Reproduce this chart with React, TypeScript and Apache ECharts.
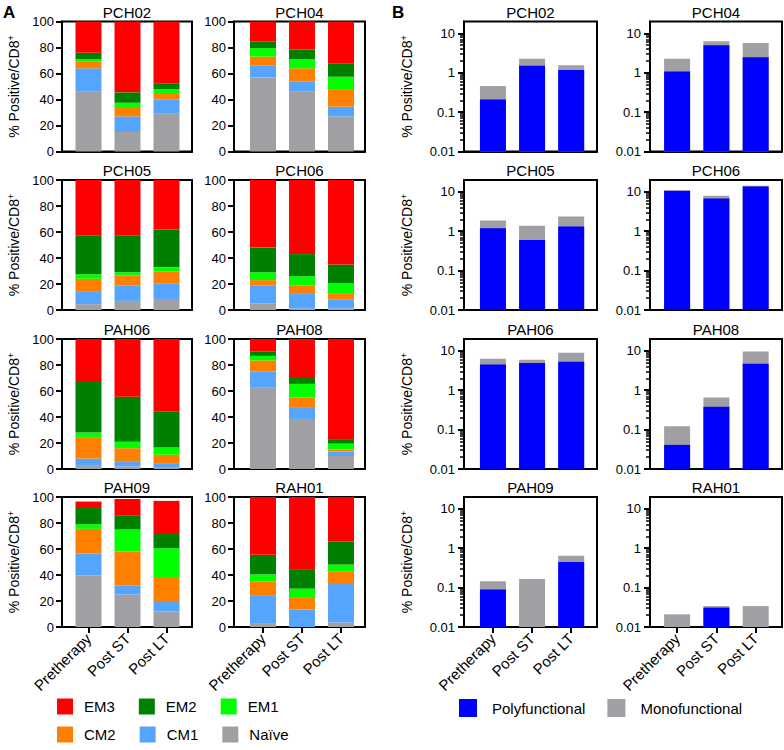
import React, { useEffect, useRef } from 'react';
import * as echarts from 'echarts';

// ---------- data ----------
const patients = ['PCH02', 'PCH04', 'PCH05', 'PCH06', 'PAH06', 'PAH08', 'PAH09', 'RAH01'];
const timepoints = ['Pretherapy', 'Post ST', 'Post LT'];

// Panel A: % of CD8+ cells per memory subset (bottom to top), per patient [Pretherapy, Post ST, Post LT]
const subsetNames = ['Naïve', 'CM1', 'CM2', 'EM1', 'EM2', 'EM3'];
const subsetColors = ['#A0A0A4', '#55A5FF', '#FF8000', '#00FF00', '#008000', '#FF0000'];
const naive = [[46, 15, 29], [57, 46, 27], [4.5, 7, 8.5], [5, 1, 1], [3, 2, 1.5], [62.5, 38.5, 10], [39.5, 25, 12], [3, 0, 3.5]];
const cm1 = [[18, 12, 11], [9, 8, 7.5], [10, 12, 12], [14, 12, 7], [5, 3.5, 3], [12.5, 8.5, 3.5], [17, 7, 8], [21.5, 13.5, 29.5]];
const cm2 = [[5, 6.5, 5], [7, 10, 13.5], [9.5, 7.5, 9], [4, 6, 5], [16, 10.5, 6.5], [8.5, 8, 1.5], [19, 26, 18.5], [10.5, 9.5, 9.5]];
const em1 = [[2, 4, 3], [6.5, 7, 9.5], [3.5, 2.5, 3.5], [6, 7, 7.5], [4, 5, 5.5], [3.5, 10.5, 4.5], [3.5, 17, 22], [5.5, 6.5, 5.5]];
const em2 = [[5, 8, 4.5], [5, 7.5, 10], [30, 28.5, 29], [19, 17, 14.5], [39, 34.5, 27.5], [3.5, 4.5, 3.5], [12.5, 11, 11], [15, 15, 17.5]];
const em3 = [[24, 54.5, 47.5], [15.5, 21.5, 32.5], [42.5, 42.5, 38.5], [52, 57, 65], [33, 44.5, 56], [9.5, 30, 77], [5, 12.5, 25.5], [44.5, 55.5, 34.5]];
const subsetValues = [naive, cm1, cm2, em1, em2, em3];

// Panel B: % positive / CD8+ (log scale). Blue = polyfunctional, grey top = total incl. monofunctional
const polyfunctional = [[0.21, 1.5, 1.17], [1.08, 5.0, 2.46], [1.19, 0.6, 1.32], [10.6, 6.8, 13.7], [4.5, 4.9, 5.3], [0.041, 0.38, 4.7], [0.089, null, 0.45], [null, 0.031, null]];
const totalPositive = [[0.46, 2.28, 1.54], [2.28, 6.3, 5.7], [1.87, 1.37, 2.37], [10.9, 8.0, 14.2], [6.3, 5.97, 9.0], [0.122, 0.65, 9.6], [0.145, 0.166, 0.64], [0.021, 0.034, 0.034]];
const pctTicks = [0, 20, 40, 60, 80, 100];
const logTicks = [0.01, 0.1, 1, 10];
const logMinorTicks = [0.02, 0.03, 0.04, 0.05, 0.06, 0.07, 0.08, 0.09, 0.2, 0.3, 0.4, 0.5, 0.6, 0.7, 0.8, 0.9, 2, 3, 4, 5, 6, 7, 8, 9];

// ---------- layout / style ----------
const FONT = '"Liberation Sans", Arial, Helvetica, sans-serif';
const BLACK = '#000';
const BAND = 39; // px per category
// panel A: frame + separate bar area
const colA = [
  { left: 62, width: 130, barLeft: 69 },
  { left: 234, width: 131, barLeft: 243.5 },
];
// panel B: frame with value x axis range
const colB = [
  { left: 464, width: 133, min: -0.74, max: 2.66 },
  { left: 650, width: 132, min: -0.69, max: 2.67 },
];
const rowTops = [21.5, 180, 339, 497];
const H = 130;

const yName = '% Positive/CD8{sup|+}';
const yNameStyle = {
  fontSize: 14,
  color: BLACK,
  fontFamily: FONT,
  rich: { sup: { fontSize: 9, color: BLACK, fontFamily: FONT, padding: [0, 0, 7, 0] } },
};

function makeX(gridIndex: number, min: number, max: number, bottomRow: boolean) {
  return {
    type: 'value',
    gridIndex,
    min,
    max,
    splitLine: { show: false },
    axisLine: { show: true, onZero: false, lineStyle: { color: BLACK, width: 2 } },
    axisTick: { show: bottomRow, customValues: [0, 1, 2], length: 6, lineStyle: { color: BLACK, width: 2 } },
    axisLabel: {
      show: bottomRow,
      customValues: [0, 1, 2],
      formatter: (v: number) => timepoints[Math.round(v)] ?? '',
      rotate: 45,
      fontSize: 15,
      color: BLACK,
      fontFamily: FONT,
      margin: 9,
    },
  };
}

function buildOption() {
  const grid: any[] = [];
  const xAxis: any[] = [];
  const yAxis: any[] = [];
  const series: any[] = [];
  const letterStyle = { fontSize: 17, fontWeight: 'bold', color: BLACK, fontFamily: FONT };
  const title: any[] = [
    { text: 'A', left: 3, top: 4, padding: 0, textStyle: letterStyle },
    { text: 'B', left: 392, top: 4, padding: 0, textStyle: letterStyle },
  ];
  const titleStyle = { fontSize: 15, fontWeight: 'normal', color: BLACK, fontFamily: FONT };

  // Panel A
  patients.forEach((p, i) => {
    const row = Math.floor(i / 2);
    const col = i % 2;
    const c = colA[col];
    // frame grid with visible axes
    const gf = grid.length;
    grid.push({ left: c.left, top: rowTops[row], width: c.width, height: H, show: true, borderColor: BLACK, borderWidth: 2, backgroundColor: 'transparent' });
    title.push({ text: p, left: c.left + c.width / 2, top: rowTops[row] - 17, padding: 0, textAlign: 'center', textStyle: titleStyle });
    const firstCenter = c.barLeft + BAND / 2;
    const xMin = -(firstCenter - c.left) / BAND;
    const xMax = xMin + c.width / BAND;
    xAxis.push(makeX(gf, xMin, xMax, row === 3));
    yAxis.push({
      type: 'value',
      gridIndex: gf,
      min: pctTicks[0],
      max: pctTicks[pctTicks.length - 1],
      interval: pctTicks[1] - pctTicks[0],
      splitLine: { show: false },
      axisLine: { show: true, onZero: false, lineStyle: { color: BLACK, width: 2 } },
      axisTick: { show: true, length: 6, lineStyle: { color: BLACK, width: 2 } },
      axisLabel: { fontSize: 13, color: BLACK, fontFamily: FONT, margin: 8 },
      name: col === 0 ? yName : '',
      nameLocation: 'middle',
      nameGap: 40,
      nameTextStyle: yNameStyle,
    });
    // bar grid (hidden axes)
    const gb = grid.length;
    grid.push({ left: c.barLeft, top: rowTops[row], width: BAND * timepoints.length, height: H });
    const xi = xAxis.length;
    xAxis.push({ type: 'category', gridIndex: gb, data: timepoints, show: false });
    const yi = yAxis.length;
    yAxis.push({ type: 'value', gridIndex: gb, min: pctTicks[0], max: pctTicks[pctTicks.length - 1], show: false, splitLine: { show: false } });
    subsetNames.forEach((name, s) => {
      series.push({
        type: 'bar',
        name,
        xAxisIndex: xi,
        yAxisIndex: yi,
        stack: 'A' + i,
        barWidth: 26,
        itemStyle: { color: subsetColors[s] },
        data: subsetValues[s][i],
      });
    });
  });

  const renderBar = (params: any, api: any) => {
    const x = api.value(0);
    const v = api.value(1);
    if (!(v > 0)) return null;
    const top = api.coord([x, v]);
    const base = api.coord([x, logTicks[0]]);
    const w = 26;
    return {
      type: 'rect',
      shape: { x: top[0] - w / 2, y: top[1], width: w, height: base[1] - top[1] },
      style: { fill: api.visual('color') },
    };
  };

  // Panel B
  patients.forEach((p, i) => {
    const row = Math.floor(i / 2);
    const col = i % 2;
    const c = colB[col];
    const g = grid.length;
    grid.push({ left: c.left, top: rowTops[row], width: c.width, height: H, show: true, borderColor: BLACK, borderWidth: 2, backgroundColor: 'transparent' });
    title.push({ text: p, left: c.left + c.width / 2, top: rowTops[row] - 17, padding: 0, textAlign: 'center', textStyle: titleStyle });
    const xi = xAxis.length;
    xAxis.push(makeX(g, c.min, c.max, row === 3));
    const yi = yAxis.length;
    yAxis.push({
      type: 'log',
      logBase: 10,
      gridIndex: g,
      min: 0.01,
      max: 20,
      position: 'left',
      splitLine: { show: false },
      axisLine: { show: true, onZero: false, lineStyle: { color: BLACK, width: 2 } },
      axisTick: { show: true, customValues: logTicks, length: 6, lineStyle: { color: BLACK, width: 2 } },
      axisLabel: {
        customValues: logTicks,
        fontSize: 13,
        color: BLACK,
        fontFamily: FONT,
        margin: 9,
        formatter: (v: number) => String(Math.pow(10, Math.round(Math.log10(v)))),
      },
      name: col === 0 ? yName : '',
      nameLocation: 'middle',
      nameGap: 49,
      nameTextStyle: yNameStyle,
    });
    yAxis.push({
      type: 'log',
      logBase: 10,
      gridIndex: g,
      min: 0.01,
      max: 20,
      position: 'left',
      splitLine: { show: false },
      axisLine: { show: false, onZero: false },
      axisTick: { show: true, customValues: logMinorTicks, length: 4, lineStyle: { color: BLACK, width: 1.5 } },
      axisLabel: { show: false },
    });
    series.push({
      type: 'custom',
      name: 'Monofunctional',
      xAxisIndex: xi,
      yAxisIndex: yi,
      itemStyle: { color: '#A0A0A4' },
      renderItem: renderBar,
      encode: { x: 0, y: 1 },
      data: totalPositive[i].map((v, k) => [k, v]),
    });
    series.push({
      type: 'custom',
      name: 'Polyfunctional',
      xAxisIndex: xi,
      yAxisIndex: yi,
      itemStyle: { color: '#0000FF' },
      renderItem: renderBar,
      encode: { x: 0, y: 1 },
      data: polyfunctional[i].map((v, k) => [k, v == null ? '-' : v]),
    });
  });

  const legendText = { fontSize: 15, color: BLACK, fontFamily: FONT };
  const legend = [
    { data: ['EM3', 'EM2', 'EM1'], left: 57, top: 698.5, icon: 'rect', itemWidth: 16, itemHeight: 16, itemGap: 24, padding: 0, selectedMode: false, textStyle: { ...legendText, padding: [0, 0, 0, 6] } },
    { data: ['CM2', 'CM1', 'Naïve'], left: 57, top: 726.5, icon: 'rect', itemWidth: 16, itemHeight: 16, itemGap: 24, padding: 0, selectedMode: false, textStyle: { ...legendText, padding: [0, 0, 0, 6] } },
    { data: ['Polyfunctional', 'Monofunctional'], left: 459, top: 699, icon: 'rect', itemWidth: 18, itemHeight: 18, itemGap: 22, padding: 0, selectedMode: false, textStyle: { ...legendText, padding: [0, 0, 0, 10] } },
  ];

  return {
    animation: false,
    backgroundColor: '#fff',
    textStyle: { fontFamily: FONT },
    title,
    legend,
    grid,
    xAxis,
    yAxis,
    series,
  };
}

export default function App() {
  const ref = useRef<HTMLDivElement>(null);
  useEffect(() => {
    const chart = echarts.init(ref.current as HTMLDivElement, null, { renderer: 'svg' });
    chart.setOption(buildOption() as any);
    return () => chart.dispose();
  }, []);
  return <div ref={ref} style={{ position: 'absolute', left: 0, top: 0, width: 784, height: 750, background: '#fff' }} />;
}
